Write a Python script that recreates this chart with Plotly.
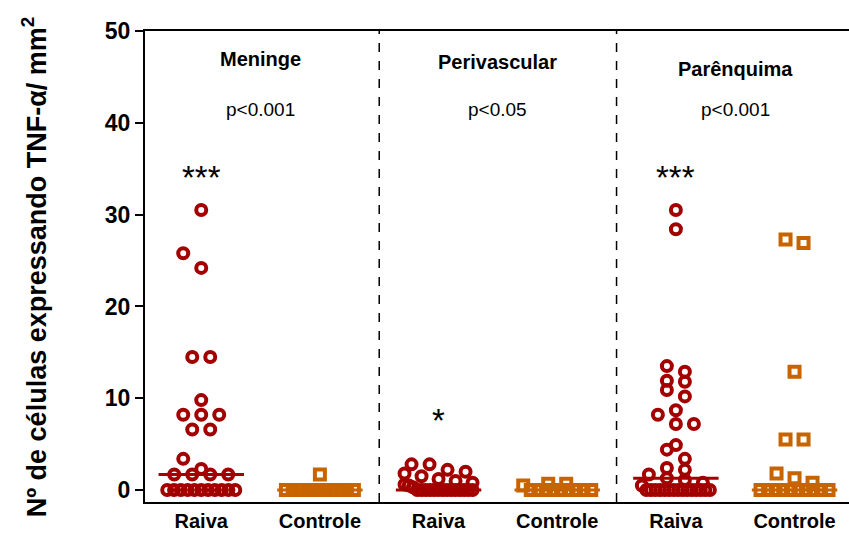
import plotly.graph_objects as go

# ---------------- data ----------------
regions = ["Meninge", "Perivascular", "Parênquima"]
p_values = ["p<0.001", "p<0.05", "p<0.001"]
stars = ["***", "*", "***"]
groups = ["Raiva", "Controle"]

meninge_raiva = [30.5, 25.8, 24.2, 14.5, 14.5, 9.8, 8.2, 8.2, 8.2, 6.6, 6.6, 3.4, 2.3, 1.7,
                 1.7, 1.7, 1.7, 0, 0, 0, 0, 0, 0, 0, 0, 0, 0, 0]
meninge_controle = [1.7, 0, 0, 0, 0, 0, 0, 0, 0, 0, 0, 0]
perivascular_raiva = [2.8, 2.8, 2.2, 2.0, 1.8, 1.5, 1.2, 1.0, 0.8, 0.6, 0.5, 0.3,
                      0, 0, 0, 0, 0, 0, 0, 0, 0, 0, 0, 0, 0, 0]
perivascular_controle = [0.7, 0.7, 0.5, 0, 0, 0, 0, 0, 0, 0, 0, 0]
parenquima_raiva = [30.5, 28.4, 13.5, 12.9, 11.9, 11.8, 10.9, 10.2, 8.7, 8.2, 7.2, 7.2, 4.9, 4.4,
                    3.4, 2.4, 2.2, 1.7, 1.3, 1.1, 0.8, 0.5,
                    0, 0, 0, 0, 0, 0, 0, 0, 0, 0, 0, 0, 0, 0, 0]
parenquima_controle = [27.3, 26.9, 12.9, 5.5, 5.5, 1.8, 1.3, 0.8, 0, 0, 0, 0, 0, 0, 0, 0, 0, 0]

series = [
    (meninge_raiva, meninge_controle),
    (perivascular_raiva, perivascular_controle),
    (parenquima_raiva, parenquima_controle),
]

RED = "#A30000"
ORANGE = "#C86400"
PX_PER_UNIT = 118.66
PX_PER_Y = 9.18
X_RANGE = [-0.474, 5.459]
Y_RANGE = [-1.3, 50]
FONT = "Liberation Sans, Arial, sans-serif"


def median(vals):
    s = sorted(vals)
    n = len(s)
    return s[n // 2] if n % 2 else 0.5 * (s[n // 2 - 1] + s[n // 2])


def swarm(vals, center, bin_h=1.3, step_px=18.0, max_px=68.0):
    bins = {}
    for v in sorted(vals, reverse=True):
        bins.setdefault(round(v / bin_h), []).append(v)
    xs, ys = [], []
    prev_single = None
    for b in sorted(bins):
        vs = bins[b]
        n = len(vs)
        s = step_px if n < 2 else min(step_px, max_px / (n - 1))
        shift = 0.0
        if n == 1 and prev_single is not None and (vs[0] - prev_single) * PX_PER_Y < 16:
            shift = -step_px
        for i, v in enumerate(vs):
            xs.append(center + ((i - (n - 1) / 2) * s + shift) / PX_PER_UNIT)
            ys.append(v)
        prev_single = vs[0] if (n == 1 and shift == 0) else None
    return xs, ys


fig = go.Figure()
tickvals, ticktext = [], []
for gi, (raiva, controle) in enumerate(series):
    for j, (vals, color, sym) in enumerate([(raiva, RED, "circle-open"),
                                            (controle, ORANGE, "square-open")]):
        pos = gi * 2 + j
        tickvals.append(pos)
        ticktext.append(groups[j])
        xs, ys = swarm(vals, pos)
        fig.add_trace(go.Scatter(
            x=xs, y=ys, mode="markers", showlegend=False,
            marker=dict(symbol=sym, size=10, color=color, line=dict(width=4, color=color)),
        ))
        m = median(vals)
        fig.add_trace(go.Scatter(
            x=[pos - 0.36, pos + 0.36], y=[m, m], mode="lines", showlegend=False,
            line=dict(color=color, width=3),
        ))
    cx = gi * 2 + 0.5
    fig.add_annotation(x=cx, y=[46.9, 46.6, 45.9][gi], text="<b>%s</b>" % regions[gi],
                       showarrow=False, font=dict(family=FONT, size=20, color="black"))
    fig.add_annotation(x=cx, y=41.4, text=p_values[gi], showarrow=False,
                       font=dict(family=FONT, size=19, color="black"))
    sy = 34.0 if stars[gi] == "***" else 7.6
    fig.add_annotation(x=gi * 2, y=sy, text=stars[gi], showarrow=False,
                       font=dict(family=FONT, size=33, color="black"))
    if gi < 2:
        fig.add_shape(type="line", x0=gi * 2 + 1.5, x1=gi * 2 + 1.5, y0=0, y1=1,
                      xref="x", yref="paper", line=dict(color="black", width=1.5, dash="dash"))

fig.add_annotation(xref="paper", yref="paper", x=-0.158, y=0.5,
                   text="<b>Nº de células expressando TNF-α/ mm<sup>2</sup></b>",
                   textangle=-90, showarrow=False, xanchor="center", yanchor="middle",
                   font=dict(family=FONT, size=27, color="black"))

fig.update_layout(
    width=849, height=535,
    margin=dict(l=145, r=0, t=31, b=33),
    plot_bgcolor="white", paper_bgcolor="white",
    font=dict(family=FONT, color="black"),
)
fig.update_xaxes(range=X_RANGE, showgrid=False, zeroline=False, showline=True,
                 linecolor="black", linewidth=2, mirror=True, ticks="",
                 tickvals=tickvals, ticktext=["<b>%s</b>" % t for t in ticktext],
                 tickfont=dict(family=FONT, size=20, color="black"))
fig.update_yaxes(range=Y_RANGE, showgrid=False, zeroline=False, showline=True,
                 linecolor="black", linewidth=2, ticks="outside", ticklen=8, tickwidth=1.5,
                 tickcolor="black", tickvals=[0, 10, 20, 30, 40, 50],
                 ticktext=["<b>%d</b>" % v for v in [0, 10, 20, 30, 40, 50]],
                 tickfont=dict(family=FONT, size=23, color="black"))

fig.write_html("out.html")
